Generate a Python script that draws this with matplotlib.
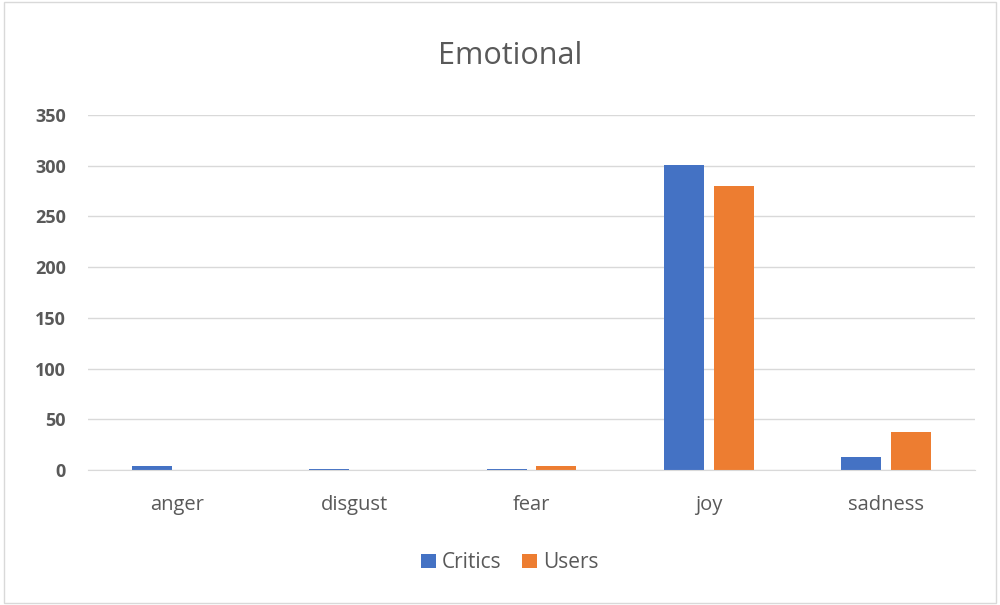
import matplotlib
matplotlib.use("Agg")
import matplotlib.pyplot as plt
import numpy as np

categories = ["anger", "disgust", "fear", "joy", "sadness"]
critics = [4, 1, 1, 301, 13]
users = [0, 0, 4, 280, 38]

plt.rcParams["font.family"] = ["Open Sans", "DejaVu Sans"]

fig = plt.figure(figsize=(10, 6.05), dpi=100)
ax = fig.add_axes([0.088, 0.223, 0.887, 0.587])

x = np.arange(len(categories))
w = 0.225
gap = 0.028
ax.bar(x - w / 2 - gap, critics, w, color="#4472C4", label="Critics")
ax.bar(x + w / 2 + gap, users, w, color="#ED7D31", label="Users")

ax.set_xlim(-0.5, len(categories) - 0.5)
ax.set_ylim(0, 350)
ax.set_yticks(range(0, 351, 50))
ax.set_xticks(x)
ax.set_xticklabels(categories, fontsize=14.5, color="#595959")
for lbl in ax.get_yticklabels():
    lbl.set_fontweight("bold")
    lbl.set_fontsize(13)
    lbl.set_color("#595959")
ax.tick_params(axis="y", length=0, pad=16)
ax.tick_params(axis="x", length=0, pad=18)
ax.grid(axis="y", color="#D9D9D9", linewidth=1)
ax.set_axisbelow(True)
for s in ["top", "right", "left"]:
    ax.spines[s].set_visible(False)
ax.spines["bottom"].set_color("#D9D9D9")

fig.text(0.51, 0.908, "Emotional", ha="center", va="center", fontsize=22, color="#595959")

fig.legend(loc="center", bbox_to_anchor=(0.51, 0.07), ncol=2, frameon=False,
           fontsize=15, labelcolor="#595959", handlelength=0.7, handleheight=0.7,
           handletextpad=0.3, columnspacing=1.0)

fig.patches.append(plt.Rectangle((0.004, 0.004), 0.992, 0.992, transform=fig.transFigure,
                                 fill=False, edgecolor="#D9D9D9", linewidth=1))

fig.savefig("out.png", dpi=100)
